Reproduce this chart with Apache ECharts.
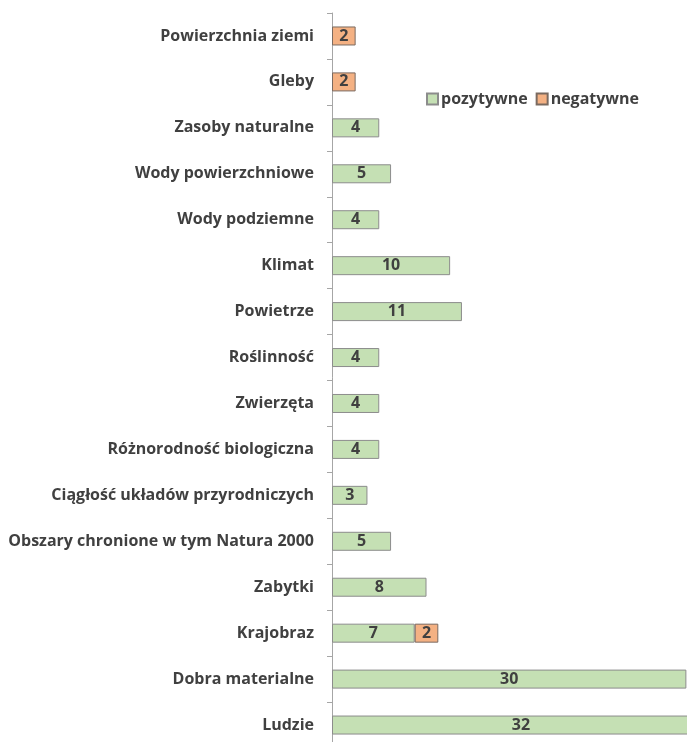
<!DOCTYPE html>
<html>
<head>
<meta charset="utf-8">
<script src="https://cdn.jsdelivr.net/npm/echarts@6/dist/echarts.min.js"></script>
<style>
  html, body { margin: 0; padding: 0; background: #ffffff; }
  #chart { width: 687px; height: 742px; }
</style>
</head>
<body>
<div id="chart"></div>
<script>
// Elements of the environment, listed top to bottom
const categories = [
  'Powierzchnia ziemi', 'Gleby', 'Zasoby naturalne', 'Wody powierzchniowe',
  'Wody podziemne', 'Klimat', 'Powietrze', 'Roślinność', 'Zwierzęta',
  'Różnorodność biologiczna', 'Ciągłość układów przyrodniczych',
  'Obszary chronione w tym Natura 2000', 'Zabytki', 'Krajobraz',
  'Dobra materialne', 'Ludzie'
];
// Number of impacts per element (null = none)
const positive = [null, null, 4, 5, 4, 10, 11, 4, 4, 4, 3, 5, 8, 7, 30, 32];
const negative = [2, 2, null, null, null, null, null, null, null, null, null, null, null, 2, null, null];
const seriesNames = ['pozytywne', 'negatywne'];

const textColor = '#404040';
const fontFamily = '"Open Sans", "DejaVu Sans", sans-serif';

const labelStyle = {
  show: true,
  position: 'inside',
  color: textColor,
  fontSize: 16,
  fontWeight: 'bold',
  fontFamily: fontFamily
};

const chart = echarts.init(document.getElementById('chart'));
chart.setOption({
  animation: false,
  backgroundColor: '#ffffff',
  textStyle: { fontFamily: fontFamily },
  // plot area runs past the right edge so the longest bar is cut off
  grid: {
    left: 332, top: 13, width: 378, height: 735,
    containLabel: false,
    outerBoundsMode: 'none'
  },
  legend: {
    data: seriesNames,
    left: 421,
    top: 86,
    itemWidth: 11,
    itemHeight: 11,
    itemGap: 8,
    icon: 'rect',
    textStyle: { color: textColor, fontSize: 16, fontWeight: 'bold', fontFamily: fontFamily, padding: [0, 0, 0, -2] }
  },
  xAxis: {
    type: 'value',
    min: 0,
    max: 32,
    show: false
  },
  yAxis: {
    type: 'category',
    data: categories,
    inverse: true,
    axisLine: { show: true, lineStyle: { color: '#a6a6a6', width: 1 } },
    axisTick: { show: true, length: 5, lineStyle: { color: '#a6a6a6' } },
    axisLabel: {
      color: textColor,
      fontSize: 16,
      fontWeight: 'bold',
      fontFamily: fontFamily,
      margin: 18
    },
    splitLine: { show: false }
  },
  series: [
    {
      name: seriesNames[0],
      type: 'bar',
      stack: 'total',
      barWidth: 19,
      data: positive,
      itemStyle: { color: '#c5e0b4', borderColor: '#8c8c8c', borderWidth: 1 },
      label: labelStyle
    },
    {
      name: seriesNames[1],
      type: 'bar',
      stack: 'total',
      barWidth: 19,
      data: negative,
      itemStyle: { color: '#f4b183', borderColor: '#7a6a60', borderWidth: 1 },
      label: labelStyle
    }
  ]
});
</script>
</body>
</html>
